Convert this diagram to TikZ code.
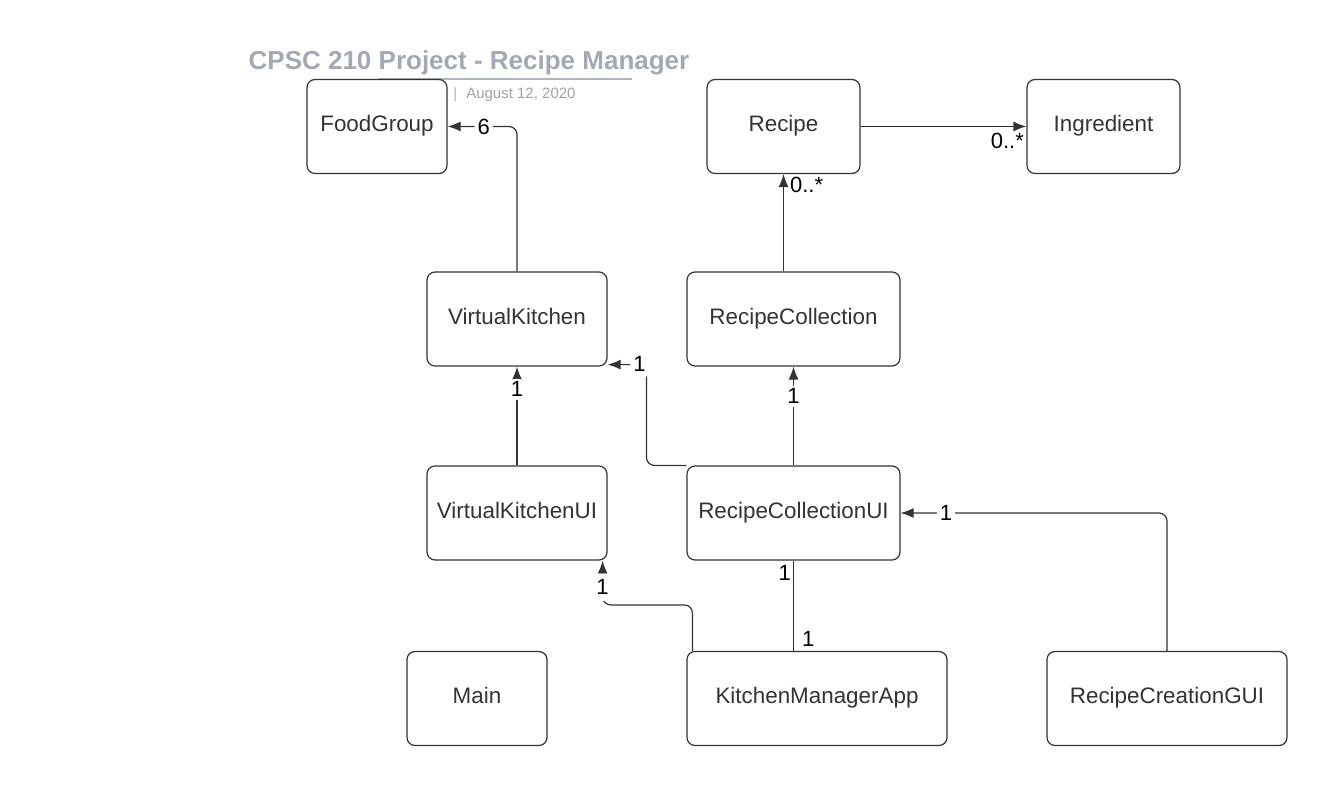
\documentclass[tikz,border=0pt]{standalone}
\usepackage{fontspec}
\setmainfont{Liberation Sans}
\usetikzlibrary{arrows.meta,positioning}
\definecolor{ink}{HTML}{333333}
\definecolor{titlegray}{HTML}{A3A9B3}
\definecolor{rulegray}{HTML}{B0B5BE}
\definecolor{dategray}{HTML}{9CA2AC}

\begin{document}
\begin{tikzpicture}[x=0.5pt, y=-0.5pt,
  cls/.style={draw=ink, line width=0.6pt, rounded corners=4pt, fill=white,
              minimum height=47pt, align=center, text=ink,
              text height=7.5pt, text depth=2.5pt,
              font=\fontsize{11.2}{13}\selectfont},
  assoc/.style={draw=ink, line width=0.6pt, rounded corners=4pt,
                -{Latex[length=6.5pt, width=5pt]}},
  link/.style={draw=ink, line width=0.6pt, rounded corners=4pt},
  mult/.style={fill=white, inner sep=1.5pt, text=black,
               font=\fontsize{11}{13}\selectfont},
  multbare/.style={inner sep=1pt, text=black, font=\fontsize{11}{13}\selectfont},
  title/.style={font=\fontsize{13}{15}\selectfont\bfseries, text=titlegray},
  datetxt/.style={font=\fontsize{7.5}{9}\selectfont, text=dategray, inner sep=0pt}
]
  \useasboundingbox (0,0) rectangle (1327,786);

  % ── Title ──
  \node[title] (title) at (469,63) {CPSC 210 Project - Recipe Manager};
  \coordinate (ulstart) at (378,79);
  \coordinate (ulend) at (632,79);
  \draw[rulegray, line width=1pt] (ulstart) -- (ulend);
  \node[datetxt, anchor=west] (date) at (453,95)
    {{\color{rulegray}|}\hspace{4.5pt}August 12, 2020};

  % ── Model classes ──
  \node[cls, minimum width=70pt] (foodgroup) at (377,126.5) {FoodGroup};
  \node[cls, minimum width=76.5pt] (recipe) at (783.5,126.5) {Recipe};
  \node[cls, minimum width=76.5pt] (ingredient) at (1103.5,126.5) {Ingredient};
  \node[cls, minimum width=90pt] (vkitchen) at (517,319) {VirtualKitchen};
  \node[cls, minimum width=106.5pt] (rcoll) at (793.5,319) {RecipeCollection};

  % ── UI classes ──
  \node[cls, minimum width=90pt] (vkui) at (517,513) {VirtualKitchenUI};
  \node[cls, minimum width=106.5pt] (rcui) at (793.5,513) {RecipeCollectionUI};
  \node[cls, minimum width=70pt] (main) at (477,698.5) {Main};
  \node[cls, minimum width=130pt] (kmapp) at (817,698.5) {KitchenManagerApp};
  \node[cls, minimum width=120pt] (rcgui) at (1167,698.5) {RecipeCreationGUI};

  % Associations: model
  \draw[assoc] (vkitchen.north) |- node[mult, pos=0.74] (m6) {6} (foodgroup.east);
  \draw[assoc] (recipe.east) -- (ingredient.west)
    node[multbare, pos=1, anchor=north east, yshift=-2pt] (mrecing) {0..*};
  \draw[assoc] (rcoll.north -| recipe.south) -- (recipe.south)
    node[multbare, pos=1, anchor=north west, xshift=2pt] (mcollrec) {0..*};

  % Associations: UI -> model
  \draw[assoc] (vkui.north) -- node[mult, pos=0.77] (mvkui) {1} (vkitchen.south);
  \draw[assoc] (rcui.north) -- node[mult, pos=0.70] (mrcui) {1} (rcoll.south);
  \draw[assoc] (rcui.north west) -- ++(-40,0)
    |- node[mult, pos=0.5, inner xsep=1.5pt, inner ysep=4pt, xshift=-3.5pt, yshift=0.5pt] (mrcvk) {1}
    ([yshift=1pt]vkitchen.south east);

  % Associations: app and GUI
  \draw[assoc] ([xshift=3pt]kmapp.north west) -- ++(0,-46)
    -| node[mult, pos=0.7, inner sep=3pt] (mkmvk) {1} ([xshift=-2.5pt]vkui.south east);
  \draw[link] (rcui.south) -- (rcui.south |- kmapp.north)
    node[multbare, pos=0, anchor=north east, yshift=-1pt] (mtop) {1}
    node[multbare, pos=1, anchor=south west, xshift=3pt, yshift=1pt] (mbot) {1};
  \draw[assoc] (rcgui.north) |- node[mult, pos=0.915] (mguirc) {1} (rcui.east);
\end{tikzpicture}
\end{document}
